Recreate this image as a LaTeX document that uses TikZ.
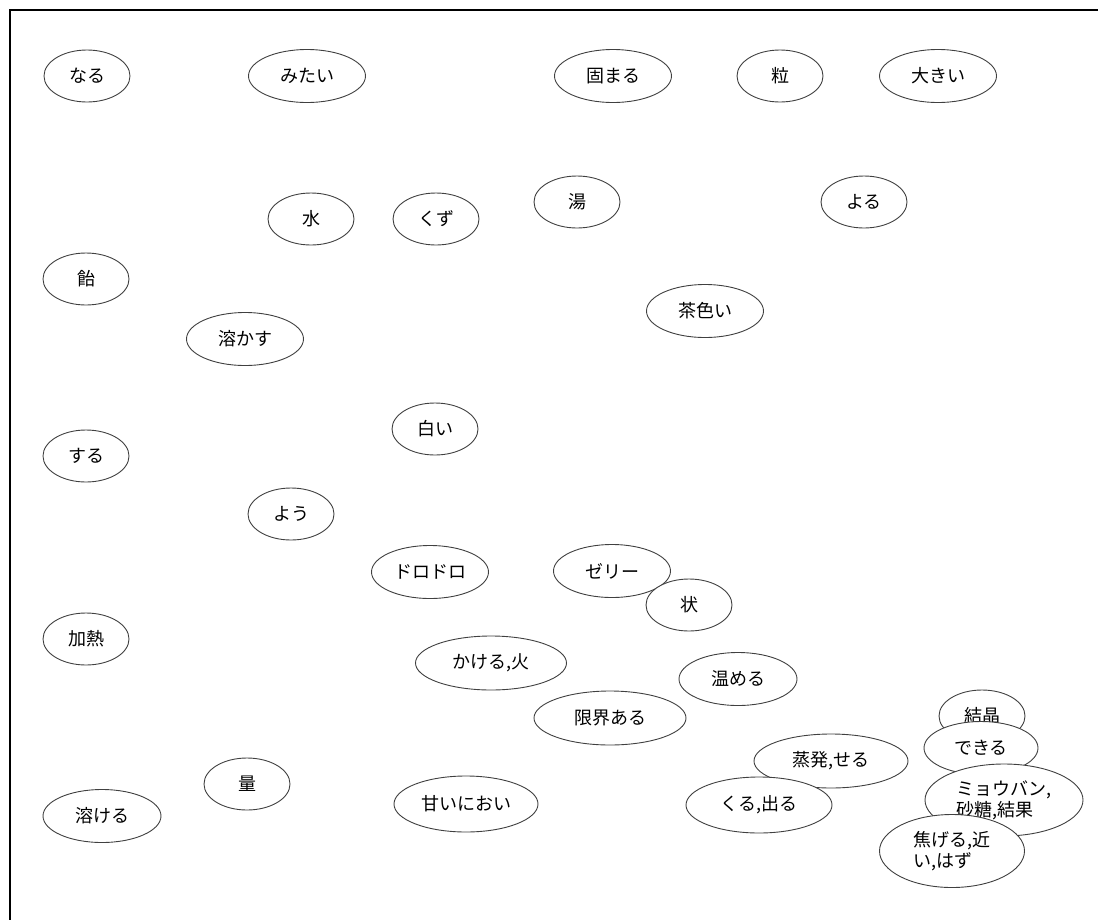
\documentclass[tikz,border=0pt]{standalone}
\usepackage{fontspec}
\setmainfont{Noto Sans CJK JP}
\usetikzlibrary{shapes.geometric}
\tikzset{
    word/.style={ellipse, draw=black!75, line width=0.9pt, fill=white, inner sep=0pt, minimum width=86pt, minimum height=52pt, font=\fontsize{18}{21}\selectfont},
    wide/.style={word, minimum width=117pt, minimum height=53pt},
    wider/.style={word, minimum width=150pt, minimum height=54pt},
    frame/.style={line width=2pt, black}
}
\begin{document}
\begin{tikzpicture}[x=1pt, y=-1pt]
        \useasboundingbox (0,0) rectangle (1098,919);
        \draw [frame] (10,1000) -- (10,10) -- (1200,10);

        % Top row
        \node [word] (w1) at (87,76) {なる};
        \node [wide] (w2) at (307,76) {みたい};
        \node [wide] (w3) at (613,76) {固まる};
        \node [word] (w4) at (780,76) {粒};
        \node [wide] (w5) at (938,76) {大きい};

        \node [word] (w6) at (577,202) {湯};
        \node [word] (w7) at (864,202) {よる};
        \node [word] (w8) at (311,219) {水};
        \node [word] (w9) at (436,219) {くず};
        \node [word] (w10) at (86,279) {飴};
        \node [wide] (w11) at (705,311) {茶色い};
        \node [wide] (w12) at (245,339) {溶かす};

        % Middle
        \node [word] (w13) at (435,429) {白い};
        \node [word] (w14) at (86,456) {する};
        \node [word] (w15) at (291,514) {よう};
        \node [wide] (w16) at (430,572) {ドロドロ};
        \node [wide] (w17) at (612,571) {ゼリー};
        \node [word] (w18) at (689,605) {状};
        \node [word] (w19) at (86,639) {加熱};
        \node [wider, minimum width=151pt] (w20) at (491,663) {かける,火};
        \node [wide, minimum width=118pt] (w21) at (738,679) {温める};
        \node [wider, minimum width=152pt] (w22) at (610,718) {限界ある};

        % Bottom (overlapping cluster)
        \node [word] (w23) at (982,716) {結晶};
        \node [wide, minimum width=114pt] (w24) at (981,748) {できる};
        \node [wider, minimum width=154pt] (w25) at (831,761) {蒸発,せる};
        \node [word] (w26) at (247,784) {量};
        \node [word, minimum width=158pt, minimum height=72pt, align=left] (w27) at (1004,800) {ミョウバン,\\砂糖,結果};
        \node [wider, minimum width=144pt, minimum height=56pt] (w28) at (466,804) {甘いにおい};
        \node [wider, minimum width=146pt, minimum height=56pt] (w29) at (759,805) {くる,出る};
        \node [wide, minimum width=118pt] (w30) at (102,816) {溶ける};
        \node [word, minimum width=145pt, minimum height=73pt, align=left] (w31) at (952,851) {焦げる,近\\い,はず};
    \end{tikzpicture}
\end{document}
